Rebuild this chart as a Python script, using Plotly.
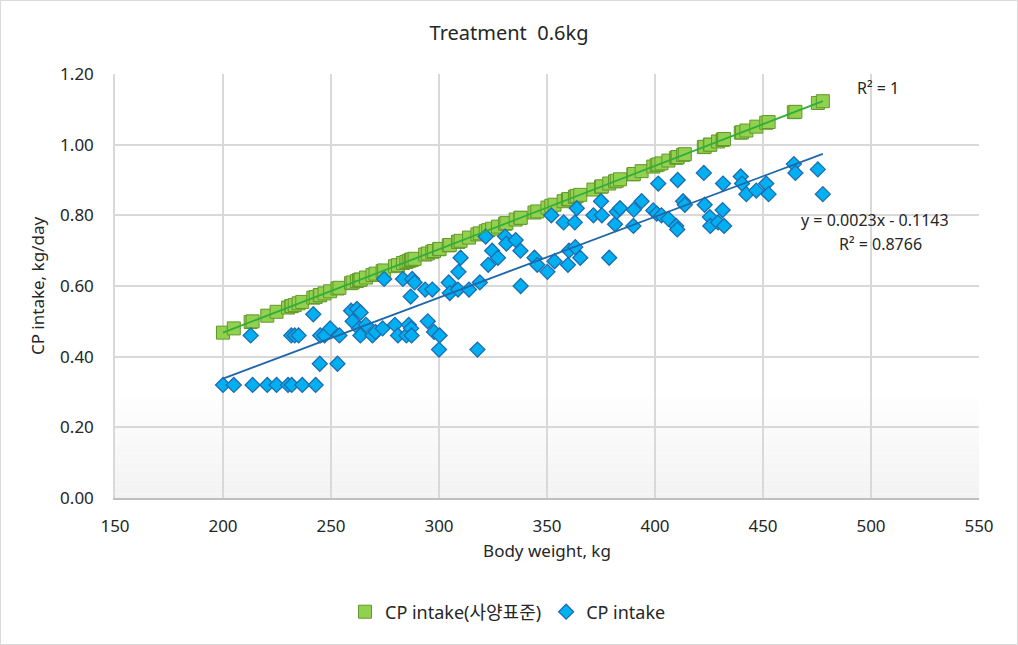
import numpy as np
import plotly.graph_objects as go

# ---- data ----
body_weight = [200.0, 205.0, 212.8, 213.7, 220.5, 224.8, 230.1, 231.6, 231.8, 233.2,
               235.0, 236.7, 241.8, 242.9, 244.8, 245.0, 247.0, 249.6, 253.0, 253.9,
               259.3, 260.0, 262.0, 263.0, 263.6, 263.7, 266.2, 269.2, 270.6, 273.9,
               274.6, 279.6, 281.0, 283.3, 284.9, 286.0, 286.9, 287.1, 287.3, 287.6,
               288.7, 293.6, 294.8, 296.9, 297.7, 300.0, 300.3, 304.5, 305.0, 308.8,
               309.0, 310.0, 313.9, 317.8, 318.9, 321.6, 322.8, 324.6, 327.3, 330.6,
               331.2, 335.5, 337.7, 337.8, 344.2, 345.5, 350.2, 352.0, 353.5, 357.7,
               359.7, 360.2, 362.9, 363.1, 363.8, 365.4, 371.5, 375.0, 375.4, 378.8,
               381.5, 382.3, 383.8, 390.0, 390.2, 393.8, 399.2, 400.8, 401.5, 403.0,
               406.2, 409.8, 410.3, 410.5, 413.0, 413.8, 422.6, 423.0, 425.4, 425.6,
               429.2, 431.3, 431.5, 432.0, 439.7, 440.3, 442.3, 446.9, 451.5, 452.6,
               464.3, 465.0, 475.4, 477.7]

cp_intake = [0.32, 0.32, 0.46, 0.32, 0.32, 0.32, 0.32, 0.46, 0.32, 0.46,
             0.46, 0.32, 0.52, 0.32, 0.38, 0.46, 0.46, 0.48, 0.38, 0.46,
             0.53, 0.50, 0.535, 0.48, 0.46, 0.525, 0.49, 0.46, 0.47, 0.48,
             0.62, 0.49, 0.46, 0.62, 0.46, 0.49, 0.57, 0.48, 0.46, 0.62,
             0.61, 0.59, 0.50, 0.59, 0.47, 0.42, 0.46, 0.61, 0.58, 0.59,
             0.64, 0.68, 0.59, 0.42, 0.61, 0.74, 0.66, 0.70, 0.68, 0.74,
             0.72, 0.73, 0.70, 0.60, 0.68, 0.66, 0.64, 0.80, 0.67, 0.78,
             0.66, 0.70, 0.78, 0.71, 0.82, 0.68, 0.80, 0.84, 0.80, 0.68,
             0.775, 0.81, 0.82, 0.77, 0.816, 0.84, 0.814, 0.805, 0.89, 0.80,
             0.79, 0.77, 0.76, 0.90, 0.84, 0.83, 0.92, 0.83, 0.795, 0.77,
             0.78, 0.815, 0.89, 0.77, 0.91, 0.89, 0.86, 0.87, 0.89, 0.86,
             0.945, 0.92, 0.93, 0.86]

cp_standard = [0.468, 0.480, 0.498, 0.500, 0.516, 0.527, 0.539, 0.543, 0.543, 0.546,
               0.551, 0.555, 0.567, 0.569, 0.574, 0.574, 0.579, 0.585, 0.593, 0.595,
               0.608, 0.610, 0.614, 0.617, 0.618, 0.618, 0.624, 0.631, 0.635, 0.642,
               0.644, 0.656, 0.659, 0.665, 0.668, 0.671, 0.673, 0.674, 0.674, 0.675,
               0.677, 0.689, 0.692, 0.697, 0.699, 0.704, 0.705, 0.715, 0.716, 0.725,
               0.725, 0.728, 0.737, 0.746, 0.749, 0.755, 0.758, 0.762, 0.768, 0.776,
               0.778, 0.788, 0.793, 0.793, 0.808, 0.811, 0.822, 0.827, 0.830, 0.840,
               0.845, 0.846, 0.852, 0.853, 0.855, 0.858, 0.873, 0.881, 0.882, 0.890,
               0.896, 0.898, 0.902, 0.916, 0.917, 0.925, 0.938, 0.942, 0.944, 0.947,
               0.955, 0.963, 0.964, 0.965, 0.971, 0.973, 0.993, 0.994, 1.000, 1.000,
               1.009, 1.014, 1.014, 1.016, 1.034, 1.035, 1.040, 1.051, 1.062, 1.064,
               1.092, 1.093, 1.118, 1.123]

x_ticks = [150, 200, 250, 300, 350, 400, 450, 500, 550]
y_ticks = [0.0, 0.2, 0.4, 0.6, 0.8, 1.0, 1.2]

title_text = "Treatment\u00a0 0.6kg"
name_standard = "CP intake(사양표준)"
name_intake = "CP intake"
eq_std = "R² = 1"
eq_intake_1 = "y = 0.0023x - 0.1143"
eq_intake_2 = "R² = 0.8766"

# ---- layout geometry (pixels) ----
W, H = 1018, 645
L, R, T, B = 115, 39, 74, 147
pw, ph = W - L - R, H - T - B

FONT = "Noto Sans, Noto Sans CJK KR, sans-serif"
TXT = "#262626"

bw = np.array(body_weight)
xr = np.array([bw.min(), bw.max()])
c_std = np.polyfit(bw, np.array(cp_standard), 1)
c_int = np.polyfit(bw, np.array(cp_intake), 1)

fig = go.Figure()
fig.add_trace(go.Scatter(
    x=body_weight, y=cp_standard, mode="markers", name=name_standard,
    marker=dict(symbol="square", size=13, color="#92d050",
                line=dict(color="#63982b", width=1))))
fig.add_trace(go.Scatter(
    x=body_weight, y=cp_intake, mode="markers", name=name_intake,
    marker=dict(symbol="diamond", size=11.5, color="#00b0f0",
                line=dict(color="#1f6cb0", width=1.3))))
fig.add_trace(go.Scatter(
    x=xr, y=np.polyval(c_std, xr), mode="lines", showlegend=False,
    line=dict(color="#2fae3a", width=1.8), hoverinfo="skip"))
fig.add_trace(go.Scatter(
    x=xr, y=np.polyval(c_int, xr), mode="lines", showlegend=False,
    line=dict(color="#1f67a8", width=1.8), hoverinfo="skip"))

shapes = []
# subtle gradient near the bottom of the plot area
n = 24
for i in range(n):
    y0 = 0.30 * i / n
    y1 = 0.30 * (i + 1) / n
    g = int(243 + (255 - 243) * (i / (n - 1)))
    shapes.append(dict(type="rect", xref="x", yref="y", x0=150, x1=550,
                       y0=y0, y1=y1, fillcolor=f"rgb({g},{g},{g})",
                       line=dict(width=0), layer="below"))
# outer chart border
shapes.append(dict(type="rect", xref="paper", yref="paper",
                   x0=(-L + 0.5) / pw, x1=(pw + R - 0.5) / pw,
                   y0=(-B + 0.5) / ph, y1=(ph + T - 0.5) / ph,
                   line=dict(color="#d9d9d9", width=1), layer="below"))

def px_x(p):
    return (p - L) / pw

def px_y(p):
    return (T + ph - p) / ph

annotations = [
    dict(text=eq_std, x=px_x(855), y=px_y(88), xref="paper", yref="paper",
         xanchor="left", yanchor="middle", showarrow=False,
         font=dict(family=FONT, size=16, color=TXT)),
    dict(text=eq_intake_1, x=px_x(799), y=px_y(220), xref="paper", yref="paper",
         xanchor="left", yanchor="middle", showarrow=False,
         font=dict(family=FONT, size=16, color=TXT)),
    dict(text=eq_intake_2, x=px_x(837), y=px_y(244), xref="paper", yref="paper",
         xanchor="left", yanchor="middle", showarrow=False,
         font=dict(family=FONT, size=16, color=TXT)),
]

fig.update_layout(
    width=W, height=H,
    margin=dict(l=L, r=R, t=T, b=B, autoexpand=False),
    paper_bgcolor="white", plot_bgcolor="white",
    font=dict(family=FONT, size=17, color=TXT),
    title=dict(text=title_text, x=0.5, xanchor="center", y=1 - 33 / H,
               yanchor="middle", font=dict(family=FONT, size=20, color=TXT)),
    showlegend=True,
    legend=dict(orientation="h", x=px_x(508), xanchor="center",
                y=px_y(612), yanchor="middle",
                font=dict(family=FONT, size=18, color=TXT),
                bgcolor="rgba(0,0,0,0)", itemwidth=30),
    shapes=shapes,
    annotations=annotations,
    xaxis=dict(range=[150, 550], tickvals=x_ticks, ticktext=[str(v) for v in x_ticks],
               showgrid=True, gridcolor="#d9d9d9", gridwidth=1.5,
               zeroline=False, showline=True, linecolor="#bfbfbf", linewidth=1.5,
               ticks="", ticklabelstandoff=12,
               tickfont=dict(family=FONT, size=17, color=TXT),
               title=dict(text="Body weight, kg", standoff=9,
                          font=dict(family=FONT, size=17, color=TXT))),
    yaxis=dict(range=[0, 1.2], tickvals=y_ticks, tickformat=".2f",
               showgrid=True, gridcolor="#d9d9d9", gridwidth=1.5,
               zeroline=False, showline=True, linecolor="#d9d9d9", linewidth=1.5,
               ticks="", ticklabelstandoff=16,
               tickfont=dict(family=FONT, size=17, color=TXT),
               title=dict(text="CP intake, kg/day", standoff=11,
                          font=dict(family=FONT, size=17, color=TXT))),
)

fig.write_html("out.html", config={"displayModeBar": False},
               post_script="document.body.style.margin='0';")
